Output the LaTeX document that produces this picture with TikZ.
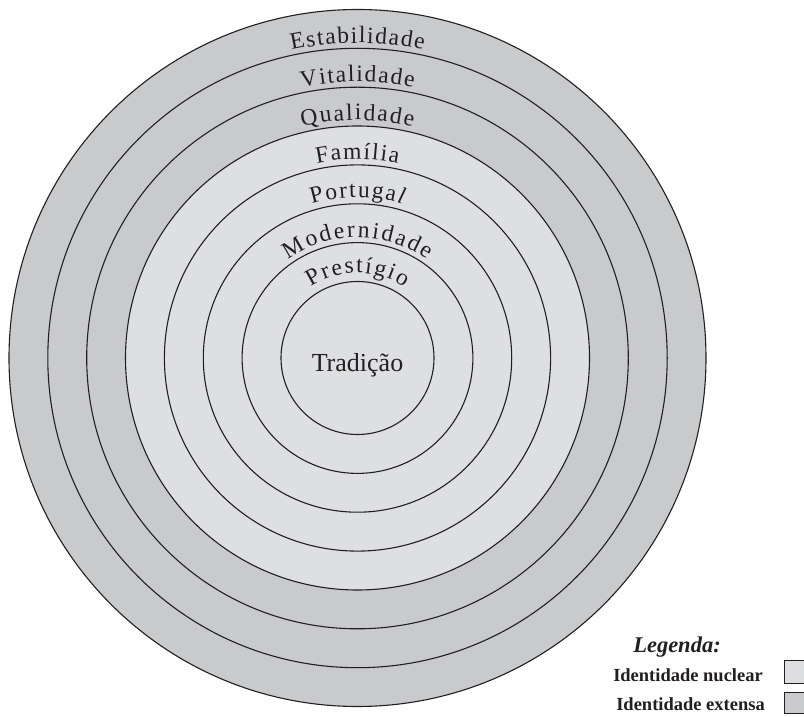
\documentclass[tikz,border=0pt]{standalone}
\usepackage{fontspec}
\setmainfont{Liberation Serif}
\definecolor{extensa}{HTML}{C8CACB}
\definecolor{nuclear}{HTML}{DEDFE0}
\definecolor{ink}{HTML}{231F20}
% fonts for the ring labels
\font\ringraw="Liberation Serif" at 23.5pt
\font\ringrawit="Liberation Serif/I" at 23.5pt
\newdimen\arcTot
\newdimen\arcPos
\newdimen\arcW
\newdimen\arcSp
% \arclabel{baseline radius}{letters}{tracking in pt}:
% sets the letters one by one, upright, over the top of a circle round (c)
\makeatletter
\newcommand\arclabel[3]{%
  \arcSp=#3pt\relax
  \arcTot=-\arcSp
  \@tfor\arcCh:=#2\do{%
    \setbox0\hbox{\ringraw\arcCh}%
    \advance\arcTot by \wd0\relax
    \advance\arcTot by \arcSp\relax
  }%
  \arcPos=0pt\relax
  \@tfor\arcCh:=#2\do{%
    \setbox0\hbox{\ringraw\arcCh}%
    \arcW=\wd0\relax
    \edef\arcA{\strip@pt\arcTot}%
    \edef\arcB{\strip@pt\arcPos}%
    \edef\arcC{\strip@pt\arcW}%
    \pgfmathsetmacro\arcAng{90+(0.5*\arcA-\arcB-0.5*\arcC)/#1*180/pi}%
    \node[glyph, rotate=\arcAng-90] at ([shift={(\arcAng:#1)}]c) {\arcCh};%
    \advance\arcPos by \arcW\relax
    \advance\arcPos by \arcSp\relax
  }%
}
\makeatother
\begin{document}
\begin{tikzpicture}[x=1pt,y=1pt,
  ring/.style={draw=ink, line width=1.1pt},
  glyph/.style={anchor=base, inner sep=0pt, outer sep=0pt, text=ink, font=\ringraw},
  legendtext/.style={text=ink, inner sep=0pt, anchor=base east,
      font=\bfseries\fontsize{18.5}{18.5}\selectfont},
  swatch/.style={draw=ink, line width=0.9pt}]
\useasboundingbox (0,0) rectangle (804,716);
\coordinate (c) at (357.5,358);

% concentric rings, outermost first
\foreach \r/\col in {348.5/extensa, 309.7/extensa, 270.8/extensa,
    232/nuclear, 193.1/nuclear, 154.2/nuclear, 115.4/nuclear, 76.5/nuclear}
  \draw[ring, fill=\col] (c) circle[radius=\r];

% ring labels
\arclabel{315}{Estabilidade}{1.5}
\arclabel{276.5}{Vitalidade}{1.6}
\arclabel{238}{Qualidade}{1.9}
\arclabel{199}{Família}{1.7}
\arclabel{160.5}{Portuga{\ringrawit l}}{1.8}
\arclabel{120.5}{Modernidade}{2.3}
\arclabel{85}{Prestígio}{1.9}

\node[text=ink, anchor=base, inner sep=0pt, font=\fontsize{26}{26}\selectfont]
  (trad) at (357.5,344) {Tradição};

% legend
\node[text=ink, anchor=base, inner sep=0pt, font=\bfseries\itshape\fontsize{22.5}{22.5}\selectfont]
  (leg) at (677,64) {Legenda:};
\node[legendtext] (nuc) at (763,35) {Identidade nuclear};
\node[legendtext] (ext) at (765,6) {Identidade extensa};
\draw[swatch, fill=nuclear] (784,33) rectangle (812,56);
\draw[swatch, fill=extensa] (784,3) rectangle (812,24);
\end{tikzpicture}
\end{document}
